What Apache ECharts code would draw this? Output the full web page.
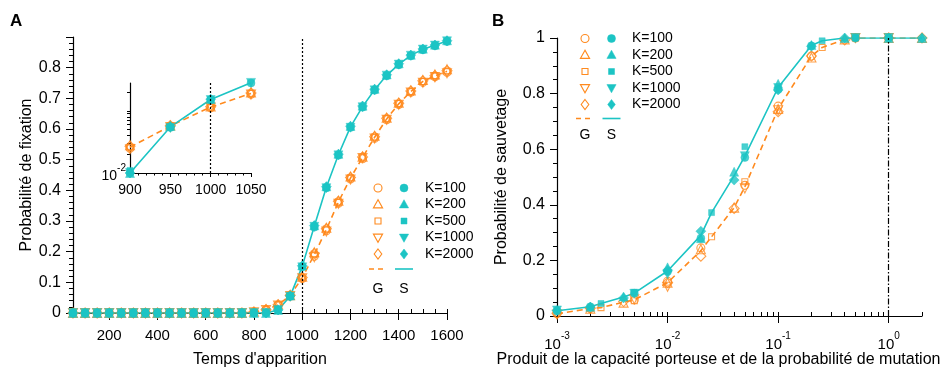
<!DOCTYPE html>
<html><head><meta charset="utf-8">
<script src="https://cdn.jsdelivr.net/npm/echarts@6/dist/echarts.min.js"></script>
<style>html,body{margin:0;padding:0;background:#fff}#c{width:944px;height:369px}</style>
</head><body><div id="c"></div>
<script>
// ---------- Panel A data ----------
const timesA = [50,100,150,200,250,300,350,400,450,500,550,600,650,700,750,800,850,900,950,1000,1050,1100,1150,1200,1250,1300,1350,1400,1450,1500,1550,1600];
const gMeanA = [0,0,0,0,0,0,0,0,0,0,0,0,0,0,0,0.003,0.011,0.026,0.057,0.115,0.19,0.272,0.362,0.44,0.507,0.573,0.633,0.682,0.722,0.755,0.773,0.788];
const sMeanA = [0,0,0,0,0,0,0,0,0,0,0,0,0,0,0,0,0,0.01,0.055,0.152,0.283,0.41,0.516,0.607,0.673,0.728,0.775,0.811,0.84,0.86,0.873,0.887];
const gK100A = [0,0,0,0,0,0,0,0,0,0,0,0,0,0,0,0.003,0.010,0.025,0.056,0.112,0.185,0.268,0.358,0.437,0.503,0.570,0.630,0.680,0.720,0.752,0.770,0.785];
const gK200A = [0,0,0,0,0,0,0,0,0,0,0,0,0,0,0,0.004,0.012,0.028,0.058,0.118,0.198,0.278,0.366,0.445,0.510,0.578,0.637,0.686,0.726,0.760,0.778,0.795];
const gK500A = [0,0,0,0,0,0,0,0,0,0,0,0,0,0,0,0.003,0.011,0.026,0.057,0.115,0.192,0.274,0.362,0.441,0.508,0.574,0.634,0.683,0.722,0.755,0.774,0.789];
const gK1000A = [0,0,0,0,0,0,0,0,0,0,0,0,0,0,0,0.002,0.010,0.024,0.055,0.113,0.182,0.266,0.356,0.435,0.505,0.569,0.630,0.679,0.719,0.751,0.769,0.782];
const gK2000A = [0,0,0,0,0,0,0,0,0,0,0,0,0,0,0,0.003,0.011,0.027,0.058,0.116,0.194,0.275,0.364,0.442,0.509,0.575,0.635,0.684,0.724,0.757,0.774,0.790];
const sK100A = [0,0,0,0,0,0,0,0,0,0,0,0,0,0,0,0,0,0.010,0.054,0.150,0.280,0.408,0.514,0.605,0.671,0.726,0.773,0.809,0.838,0.858,0.871,0.885];
const sK200A = [0,0,0,0,0,0,0,0,0,0,0,0,0,0,0,0,0,0.010,0.057,0.155,0.286,0.413,0.519,0.610,0.676,0.731,0.778,0.814,0.842,0.862,0.875,0.889];
const sK500A = [0,0,0,0,0,0,0,0,0,0,0,0,0,0,0,0,0,0.011,0.055,0.152,0.283,0.410,0.516,0.607,0.673,0.728,0.775,0.811,0.840,0.860,0.873,0.887];
const sK1000A = [0,0,0,0,0,0,0,0,0,0,0,0,0,0,0,0,0,0.010,0.053,0.149,0.281,0.407,0.514,0.604,0.671,0.726,0.774,0.810,0.839,0.859,0.872,0.886];
const sK2000A = [0,0,0,0,0,0,0,0,0,0,0,0,0,0,0,0,0,0.010,0.056,0.154,0.285,0.412,0.518,0.609,0.675,0.730,0.777,0.813,0.841,0.861,0.874,0.888];
const xTickLabelsA = [200,400,600,800,1000,1200,1400,1600];
const insetTicks = [900,950,1000,1050];

// ---------- Panel B data ----------
const xLineB = [0.001,0.002,0.0025,0.004,0.005,0.01,0.02,0.025,0.04,0.05,0.1,0.2,0.25,0.4,0.5,1,2];
const gLineB = [0.008,0.027,0.03,0.05,0.058,0.12,0.235,0.285,0.39,0.465,0.745,0.935,0.966,0.995,1,1,1];
const sLineB = [0.019,0.033,0.045,0.068,0.082,0.162,0.29,0.372,0.505,0.575,0.822,0.973,0.99,1,1,1,1];
const xK100B = [0.001,0.002,0.005,0.01,0.02,0.05,0.1,0.2,0.5,1];
const gK100B = [0.008,0.027,0.058,0.125,0.245,0.47,0.755,0.935,1.0,1.0];
const sK100B = [0.018,0.033,0.082,0.16,0.28,0.57,0.815,0.972,1.0,1.0];
const xK200B = [0.002,0.004,0.01,0.02,0.04,0.1,0.2,0.4,1,2];
const gK200B = [0.026,0.048,0.12,0.24,0.39,0.745,0.93,0.995,1.0,1.0];
const sK200B = [0.033,0.07,0.175,0.28,0.519,0.835,0.975,1.0,1.0,1.0];
const xK500B = [0.0025,0.005,0.025,0.05,0.25,0.5];
const gK500B = [0.03,0.055,0.285,0.483,0.966,1.0];
const sK500B = [0.045,0.085,0.372,0.609,0.99,1.0];
const xK1000B = [0.001,0.005,0.01,0.05,0.1,0.5,1];
const gK1000B = [0.005,0.06,0.105,0.459,0.74,1.0,1.0];
const sK1000B = [0.02,0.08,0.15,0.575,0.82,1.0,1.0];
const xK2000B = [0.001,0.002,0.004,0.01,0.02,0.04,0.1,0.2,0.4,1,2];
const gK2000B = [0.01,0.028,0.052,0.12,0.215,0.387,0.735,0.935,0.993,1.0,1.0];
const sK2000B = [0.02,0.032,0.065,0.165,0.305,0.489,0.813,0.97,1.0,1.0,1.0];
const xDecadesB = [0.001,0.01,0.1,1];
const kLabels = ['K=100','K=200','K=500','K=1000','K=2000'];

// ---------- styling ----------
const OR = '#FF8A1E', CY = '#1CC4C4';
const FONT = 'Liberation Sans, Arial, sans-serif';
const shapes = [
  {symbol:'circle', size:8, rot:0},
  {symbol:'triangle', size:9, rot:0},
  {symbol:'rect', size:6, rot:0},
  {symbol:'triangle', size:9, rot:180},
  {symbol:'diamond', size:10, rot:0}
];
const zip = (xs, ys) => xs.map((x,i)=>[x, ys[i]]);
const inInset = (xs, ys) => xs.map((x,i)=>[x, ys[i]]).filter(p => p[0]>=900 && p[0]<=1050);

const gA = [gK100A,gK200A,gK500A,gK1000A,gK2000A];
const sA = [sK100A,sK200A,sK500A,sK1000A,sK2000A];
const xB = [xK100B,xK200B,xK500B,xK1000B,xK2000B];
const gB = [gK100B,gK200B,gK500B,gK1000B,gK2000B];
const sB = [sK100B,sK200B,sK500B,sK1000B,sK2000B];

function scat(name, data, k, open, xi, yi) {
  const sh = shapes[k];
  return {
    name, type:'scatter', xAxisIndex:xi, yAxisIndex:yi, data,
    symbol: sh.symbol, symbolSize: sh.size, symbolRotate: sh.rot,
    itemStyle: open ? {color:'rgba(255,255,255,0)', borderColor: OR, borderWidth: 1.1}
                    : {color: CY, borderColor: CY, borderWidth: 0.5},
    z: open ? 3 : 4, silent:true
  };
}
function line(name, data, color, dashed, xi, yi, mark) {
  const s = {
    name, type:'line', xAxisIndex:xi, yAxisIndex:yi, data, showSymbol:false, symbol:'none',
    lineStyle:{color, width:1.6, type: dashed ? [6,4] : 'solid'}, z: dashed ? 2 : 3, silent:true
  };
  if (mark) s.markLine = {symbol:'none', silent:true, label:{show:false}, animation:false,
    lineStyle:{color:'#000', width:1.2, type: mark.type}, data:[{xAxis: mark.x}]};
  return s;
}

const series = [];
// Panel A main
series.push(line('G', zip(timesA, gMeanA), OR, true, 0, 0, {x:1000, type:[2,2]}));
series.push(line('S', zip(timesA, sMeanA), CY, false, 0, 0));
for (let k=0;k<5;k++) series.push(scat('G '+kLabels[k], zip(timesA, gA[k]), k, true, 0, 0));
for (let k=0;k<5;k++) series.push(scat('S '+kLabels[k], zip(timesA, sA[k]), k, false, 0, 0));
// Inset
series.push(line('Gi', inInset(timesA, gMeanA), OR, true, 2, 1, {x:1000, type:[2,2]}));
series.push(line('Si', inInset(timesA, sMeanA), CY, false, 2, 1));
for (let k=0;k<5;k++) series.push(scat('Gi '+kLabels[k], inInset(timesA, gA[k]), k, true, 2, 1));
for (let k=0;k<5;k++) series.push(scat('Si '+kLabels[k], inInset(timesA, sA[k]), k, false, 2, 1));
// Panel B
series.push(line('GB', zip(xLineB, gLineB), OR, true, 3, 2, {x:1, type:[6,2,1.5,2]}));
series.push(line('SB', zip(xLineB, sLineB), CY, false, 3, 2));
for (let k=0;k<5;k++) series.push(scat('GB '+kLabels[k], zip(xB[k], gB[k]), k, true, 3, 2));
for (let k=0;k<5;k++) series.push(scat('SB '+kLabels[k], zip(xB[k], sB[k]), k, false, 3, 2));

const supRich = (bs) => ({
  b:{fontSize:bs, fontFamily:FONT, color:'#000', lineHeight:bs+6, verticalAlign:'bottom'},
  s:{fontSize:Math.round(bs*0.68), fontFamily:FONT, color:'#000', lineHeight:10, verticalAlign:'top'}
});
const powFmt = v => '{b|10}{s|' + Math.round(Math.log10(v)) + '}';
const axLine = {show:true, onZero:false, lineStyle:{color:'#000', width:1.2}};
const lbl = (size) => ({color:'#000', fontSize:size, fontFamily:FONT});
const tk = () => ({color:'#000', width:1});

const logMinorB = [];
xDecadesB.forEach(d => { for (let m=1;m<=9;m++){ const v = +(d*m).toPrecision(3); if (v<=2) logMinorB.push(v); } });
const logMinorInset = [0.01,0.02,0.03,0.04,0.05,0.06,0.07,0.08,0.09,0.1,0.2];
const minorA = timesA.filter(t => t>=100);

// Legend graphic builder
function marker(k, x, y, open) {
  const st = open ? {fill:'none', stroke:OR, lineWidth:1.1} : {fill:CY, stroke:CY, lineWidth:0.5};
  if (k===0) return {type:'circle', shape:{cx:x, cy:y, r:4}, style:st};
  if (k===1) return {type:'polygon', shape:{points:[[x,y-4.8],[x-4.6,y+3.4],[x+4.6,y+3.4]]}, style:st};
  if (k===2) return {type:'rect', shape:{x:x-3, y:y-3, width:6, height:6}, style:st};
  if (k===3) return {type:'polygon', shape:{points:[[x-4.6,y-3.4],[x+4.6,y-3.4],[x,y+4.8]]}, style:st};
  return {type:'polygon', shape:{points:[[x,y-5],[x+3.8,y],[x,y+5],[x-3.8,y]]}, style:st};
}
function legend(xo, xc, xt, ys, yl, yg) {
  const els = [];
  for (let k=0;k<5;k++) {
    els.push(marker(k, xo, ys[k], true));
    els.push(marker(k, xc, ys[k], false));
    els.push({type:'text', x:xt, y:ys[k], style:{text:kLabels[k], fill:'#000', font:'14px '+FONT, textVerticalAlign:'middle'}});
  }
  els.push({type:'line', shape:{x1:xo-9, y1:yl, x2:xo+8, y2:yl}, style:{stroke:OR, lineWidth:1.6, lineDash:[5,4]}});
  els.push({type:'line', shape:{x1:xc-9, y1:yl, x2:xc+9, y2:yl}, style:{stroke:CY, lineWidth:1.6}});
  els.push({type:'text', x:xo, y:yg, style:{text:'G', fill:'#000', font:'14px '+FONT, textAlign:'center', textVerticalAlign:'middle'}});
  els.push({type:'text', x:xc, y:yg, style:{text:'S', fill:'#000', font:'14px '+FONT, textAlign:'center', textVerticalAlign:'middle'}});
  return els;
}

const gridBase = {containLabel:false, outerBoundsMode:'none'};
const option = {
  animation:false,
  backgroundColor:'#fff',
  grid:[
    Object.assign({left:73, top:37, width:374, height:276}, gridBase),
    Object.assign({left:130, top:83, width:121, height:90}, gridBase),
    Object.assign({left:557, top:38, width:365, height:278}, gridBase)
  ],
  xAxis:[
    {gridIndex:0, type:'value', min:50, max:1600, axisLine:axLine,
     axisTick:{show:true, length:7, customValues:xTickLabelsA, lineStyle:tk()},
     axisLabel:Object.assign(lbl(15), {customValues:xTickLabelsA, margin:15, formatter: v => String(v)}), splitLine:{show:false},
     name:"Temps d'apparition", nameLocation:'middle', nameGap:39, nameMoveOverlap:false, nameTextStyle:lbl(16)},
    {gridIndex:0, type:'value', min:50, max:1600, axisLine:{show:false},
     axisTick:{show:true, length:4, customValues:minorA, lineStyle:tk()},
     axisLabel:{show:false}, splitLine:{show:false}},
    {gridIndex:1, type:'value', min:900, max:1050, interval:50, axisLine:axLine,
     axisTick:{show:true, length:4, lineStyle:tk()},
     minorTick:{show:true, splitNumber:5, length:2.5, lineStyle:tk()},
     axisLabel:Object.assign(lbl(14), {margin:10, formatter: v => String(v)}), splitLine:{show:false}, minorSplitLine:{show:false}},
    {gridIndex:2, type:'log', logBase:10, min:0.001, max:2, axisLine:axLine,
     axisTick:{show:true, length:7, customValues:xDecadesB, lineStyle:tk()},
     axisLabel:{customValues:xDecadesB, formatter:powFmt, rich:supRich(15), margin:15},
     splitLine:{show:false},
     name:'Produit de la capacité porteuse et de la probabilité de mutation', nameLocation:'middle', nameGap:36, nameMoveOverlap:false,
     nameTextStyle:Object.assign(lbl(16), {padding:[0,42,0,0]})},
    {gridIndex:2, type:'log', logBase:10, min:0.001, max:2, axisLine:{show:false},
     axisTick:{show:true, length:4, customValues:logMinorB, lineStyle:tk()},
     axisLabel:{show:false}, splitLine:{show:false}}
  ],
  yAxis:[
    {gridIndex:0, type:'value', min:0, max:0.9, interval:0.1, axisLine:axLine,
     axisTick:{show:true, length:7, lineStyle:tk()},
     minorTick:{show:true, splitNumber:5, length:4, lineStyle:tk()},
     axisLabel:Object.assign(lbl(16), {margin:12, formatter: v => v>0.85 ? '' : String(+v.toFixed(1))}),
     splitLine:{show:false}, minorSplitLine:{show:false},
     name:'Probabilité de fixation', nameLocation:'middle', nameGap:38, nameMoveOverlap:false, nameTextStyle:lbl(16)},
    {gridIndex:1, type:'log', logBase:10, min:0.01, max:0.28, axisLine:axLine,
     axisTick:{show:true, length:3, customValues:logMinorInset, lineStyle:tk()},
     axisLabel:{customValues:[0.01], formatter:powFmt, rich:supRich(14), margin:4}, splitLine:{show:false}},
    {gridIndex:2, type:'value', min:0, max:1, interval:0.2, axisLine:axLine,
     axisTick:{show:true, length:7, lineStyle:tk()},
     minorTick:{show:true, splitNumber:4, length:4, lineStyle:tk()},
     axisLabel:Object.assign(lbl(16), {margin:12, formatter: v => String(+v.toFixed(1))}),
     splitLine:{show:false}, minorSplitLine:{show:false},
     name:'Probabilité de sauvetage', nameLocation:'middle', nameGap:47, nameMoveOverlap:false, nameTextStyle:lbl(16)}
  ],
  graphic:[
    {type:'text', left:10, top:13, style:{text:'A', fill:'#000', font:'bold 17px '+FONT}},
    {type:'text', left:492, top:13, style:{text:'B', fill:'#000', font:'bold 17px '+FONT}},
    ...legend(378, 404, 425, [188,204.5,221,237.5,254], 269, 289),
    ...legend(585, 611.5, 632, [38.5,55,71.5,88,104.5], 118.5, 135)
  ],
  series
};
const chart = echarts.init(document.getElementById('c'), null, {renderer:'canvas'});
chart.setOption(option);
</script></body></html>
